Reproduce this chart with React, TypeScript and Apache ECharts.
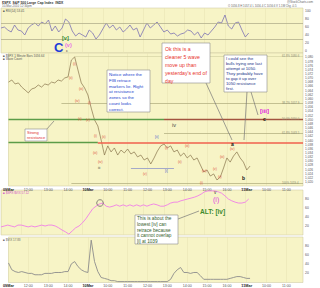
import { useEffect, useRef } from "react";
import * as echarts from "echarts";

const tickLabels = ["09Mar", "12:00", "13:00", "14:00", "10Mar", "10:00", "11:00", "12:00", "13:00", "14:00", "15:00", "16:00", "11Mar", "10:00", "11:00"];
const STEPS = 6;

const price = [
  1068.0, 1069.0, 1067.1, 1067.6, 1065.6, 1064.2, 1062.8, 1064.7, 1065.2, 1066.6,
  1065.6, 1067.1, 1066.6, 1068.0, 1067.6, 1069.0, 1068.5, 1070.0, 1070.5, 1078.6,
  1080.1, 1073.8, 1067.6, 1065.2, 1061.8, 1055.5, 1049.8, 1046.9, 1040.1, 1032.9,
  1037.3, 1034.4, 1036.3, 1032.9, 1035.3, 1033.9, 1035.8, 1033.4, 1034.4, 1032.0,
  1032.9, 1030.5, 1031.5, 1028.6, 1031.5, 1034.8, 1037.3, 1038.2, 1036.3, 1037.3,
  1034.4, 1035.3, 1032.4, 1033.9, 1031.5, 1032.9, 1030.5, 1031.5, 1028.1, 1024.7,
  1025.7, 1022.8, 1023.8, 1020.9, 1022.3, 1026.7, 1031.5, 1029.5, 1032.4, 1034.4,
  1031.5, 1029.5, 1025.7, 1027.6,
];

const rsi = [
  57.5, 60, 52.5, 47.5, 65, 52.5, 50, 40, 57.5, 65,
  70, 62.5, 72.5, 67.5, 77.5, 50, 62.5, 47.5, 57.5, 80,
  72.5, 50, 37.5, 45, 40, 35, 52.5, 45, 30, 40,
  55, 70, 57.5, 65, 52.5, 60, 47.5, 55, 65, 52.5,
  57.5, 35, 52.5, 70, 57.5, 65, 72.5, 60, 47.5, 52.5,
  42.5, 45, 37.5, 42.5, 45, 52.5, 50, 40, 47.5, 32.5,
  45, 40, 50, 60, 72.5, 70, 90, 62.5, 55, 70,
  72.5, 52.5, 35, 45,
];

const ratio = [
  18, 20, 22, 20, 18, 22, 22, 20, 18, 20,
  18, 20, 22, 20, 22, 22, 20, 16, 11, 7,
  2, 9, 16, 20, 27, 36, 47, 58, 64, 69,
  71, 64, 62, 64, 67, 64, 67, 64, 67, 64,
  67, 64, 67, 64, 67, 69, 67, 64, 64, 67,
  71, 73, 73, 76, 78, 80, 82, 84, 87, 91,
  96, 98, 98, 98, 96, 93, 87, 80, 76, 73,
  71, 71, 73, 80,
];

const volume = [
  43, 28, 24, 22, 24, 22, 20, 20, 17, 17,
  17, 20, 20, 20, 22, 22, 22, 24, 24, 41,
  46, 35, 28, 24, 22, 93, 46, 24, 11, 9,
  7, 4, 4, 2, 2, 2, 2, 2, 2, 2,
  2, 2, 2, 2, 2, 2, 2, 2, 2, 7,
  20, 28, 33, 22, 22, 20, 22, 22, 15, 7,
  7, 7, 7, 7, 7, 7, 7, 9, 11, 13,
  13, 11, 9, 9,
];

const resistanceLevels = [1050, 1039];
const fibLevels = [1080.6, 1057.9, 1043.5, 1019.4];
const fibNames = ["61.8% 1080.6", "38.2% 1057.9", "61.8% 1043.5", "100% 1019.4"];
const supportLevel = 1026.7;

const categories = Array.from({ length: tickLabels.length * STEPS }, (_, i) =>
  i % STEPS === 0 ? tickLabels[i / STEPS] : `${i}`
);
const LAST = categories.length - 1;

const FONT = 'Arial, "Liberation Sans", Helvetica, sans-serif';
const BG = "#f7f4c6";

const txt = (x: number, y: number, text: string, fill: string, size: number, weight = "normal", lh?: number) => ({
  type: "text",
  x,
  y,
  z: 20,
  silent: true,
  style: { text, fill, fontSize: size, fontWeight: weight, fontFamily: FONT, lineHeight: lh ?? size * 1.2, verticalAlign: "top", align: "left" },
});
const box = (x: number, y: number, w: number, h: number) => ({
  type: "rect",
  z: 15,
  silent: true,
  shape: { x, y, width: w, height: h },
  style: { fill: "#ffffff", stroke: "#8a8a8a", lineWidth: 0.6 },
});
const seg = (x1: number, y1: number, x2: number, y2: number, color = "#777") => ({
  type: "line",
  z: 14,
  silent: true,
  shape: { x1, y1, x2, y2 },
  style: { stroke: color, lineWidth: 0.7 },
});

const waveMarks: [number, number, string, string][] = [
  [73, 62, "(i)", "#e0503c"], [69, 76, "(ii)", "#e0503c"], [79, 87, "(iii)", "#e0503c"],
  [75, 99, "(iv)", "#e0503c"], [88, 101, "(i)", "#e0503c"], [78, 117, "(ii)", "#e0503c"],
  [86, 118, "(v)", "#e0503c"], [94, 134, "(i)", "#e0503c"], [102, 135, "(ii)", "#e0503c"],
  [93, 151, "(iii)", "#e0503c"], [98, 160, "(iv)", "#e0503c"], [143, 172, "(v)", "#e0503c"],
  [165, 146, "(i)", "#e0503c"], [178, 160, "(ii)", "#e0503c"], [185, 144, "(iii)", "#e0503c"],
  [202, 169, "(iv)", "#e0503c"], [213, 167, "(v)", "#e0503c"], [200, 181, "(i)", "#e0503c"],
  [218, 175, "(ii)", "#e0503c"], [220, 155, "(iii)", "#e0503c"], [230, 147, "(iv)", "#e0503c"],
  [155, 135, "[ii]", "#4a5ad0"], [165, 169, "[i]", "#4a5ad0"], [98, 166, "iii", "#333"],
];

export default function App() {
  const ref = useRef<HTMLDivElement>(null);
  useEffect(() => {
    if (!ref.current) return;
    const chart = echarts.init(ref.current, undefined, { renderer: "svg" });

    const grids = [
      { top: 8, height: 45 },
      { top: 53, height: 133 },
      { top: 190, height: 45 },
      { top: 237, height: 46 },
    ].map((g) => ({ left: 1, right: 17, ...g, show: true, backgroundColor: BG, borderColor: "#c9c59e", borderWidth: 0.5 }));

    const xAxis = [0, 1, 2, 3].map((gi) => ({
      type: "category",
      gridIndex: gi,
      data: categories,
      boundaryGap: false,
      axisLine: { show: false },
      axisTick: { show: false },
      axisLabel: {
        show: gi === 1 || gi === 3,
        interval: (i: number) => i % STEPS === 0,
        fontSize: 3.6,
        color: "#555",
        margin: 1.5,
        fontFamily: FONT,
        formatter: (v: string) => (v.endsWith("Mar") ? `{b|${v}}` : v),
        rich: { b: { fontWeight: "bold", fontSize: 3.8, color: "#222", fontFamily: FONT } },
      },
      splitLine: { show: true, interval: (i: number) => i % STEPS === 0, lineStyle: { color: "#e6e2b2", width: 0.5 } },
    }));

    const tinyLabel = { fontSize: 3.4, color: "#555", margin: 2, fontFamily: FONT, showMinLabel: false, showMaxLabel: false };
    const yAxis = [
      { gridIndex: 0, type: "value", position: "right", min: -5, max: 107.5, axisLabel: tinyLabel, splitLine: { show: false }, axisLine: { show: false }, axisTick: { show: false } },
      { gridIndex: 1, type: "value", position: "right", min: 1018, max: 1082, interval: 2, axisLabel: { ...tinyLabel, fontSize: 3.2 }, splitLine: { show: false }, axisLine: { show: false }, axisTick: { show: false } },
      { gridIndex: 2, type: "value", position: "right", min: 0, max: 100, axisLabel: tinyLabel, splitLine: { show: false }, axisLine: { show: false }, axisTick: { show: false } },
      { gridIndex: 3, type: "value", position: "right", min: 0, max: 100, axisLabel: tinyLabel, splitLine: { show: false }, axisLine: { show: false }, axisTick: { show: false } },
    ];

    const hSeg = (from: number, to: number, y: number, color: string, width: number) => [
      { coord: [from, y], lineStyle: { color, width, type: "solid" } },
      { coord: [to, y] },
    ];

    const priceMarks = [
      hSeg(0, 47, resistanceLevels[0], "#5c9c48", 1.3),
      hSeg(47, LAST, resistanceLevels[0], "#a35440", 1.3),
      hSeg(0, 27, resistanceLevels[1], "#5c9c48", 1.3),
      hSeg(27, LAST, resistanceLevels[1], "#f0604c", 1.6),
      hSeg(20, LAST, fibLevels[0], "#cfcc9e", 0.6),
      hSeg(16, LAST, fibLevels[1], "#b5b284", 0.8),
      hSeg(47, LAST, fibLevels[2], "#b5b284", 0.8),
      hSeg(19, LAST, fibLevels[3], "#b5b284", 0.8),
      hSeg(37, 50, supportLevel, "#a4aac8", 1.2),
    ];

    const graphic = [
      txt(2, 0.5, "$SPX  S&P 500 Large Cap Index  INDX", "#333", 3.4, "bold"),
      txt(2, 4.3, "10-Mar-2010 12:34pm", "#666", 3),
      txt(287, 0.3, "@StockCharts.com", "#666", 3),
      txt(228, 4.2, "O 1056.8 H 1057.4 L 1056.4 C 1056.6 V 1.1M Chg -0.5", "#666", 2.8),
      txt(3, 9, "\u25A0 RSI(14) 53.41", "#555", 3),
      txt(3, 53.6, "\u25A0 $SPX 1 Minute Bars 1056.64", "#555", 3),
      txt(3, 56.6, "\u25A0 Wave Count", "#555", 3),
      txt(3, 191, "\u25A0 $SPX:$VIX 57.12", "#d050c8", 3),
      txt(3, 238, "\u25A0 $VIX 17.83", "#666", 3),
      ...fibNames.map((n, k) => txt(282, [53.5, 100.5, 130.5, 180.5][k], n, "#8a8a70", 2.8)),
      txt(282, 116.5, "50.0% 1050.0", "#8a8a70", 2.8),
      ...waveMarks.map(([x, y, t, c]) => txt(x, y, t, c, 3.3)),
      txt(54, 39.5, "C", "#1f3fd8", 13, "bold"),
      txt(62, 34.5, "[v]", "#2e8b2e", 5.5, "bold"),
      txt(65, 42, "(v)", "#e86ce8", 5.5, "bold"),
      txt(66, 48, "c", "#333", 4),
      txt(260, 107, "[iii]", "#e020e0", 6, "bold"),
      txt(263, 115.5, "c", "#111", 5, "bold"),
      txt(172, 121.5, "iv", "#444", 5.5),
      txt(231, 141, "a", "#111", 5, "bold"),
      txt(242, 175, "b", "#111", 5, "bold"),
      txt(213, 195, "(i)", "#e040e0", 7),
      txt(214, 189.5, "v", "#333", 4.5),
      txt(200, 207.5, "ALT: [iv]", "#3b8a2b", 6.5, "bold"),
      seg(206, 83, 232, 140),
      seg(247, 92, 244, 140),
      seg(251, 92, 258, 115),
      seg(46, 130, 54, 121),
      seg(178, 219, 199, 211),
      { type: "circle", z: 14, silent: true, shape: { cx: 100, cy: 203, r: 3.3 }, style: { fill: "none", stroke: "#555", lineWidth: 0.7 } },
      box(162, 43, 48, 40),
      txt(165, 44.5, "Ok this is a\ncleaner 5 wave\nmove up than\nyesterday's end of\nday", "#e8342c", 5.2, "normal", 8),
      box(107, 70, 43, 42),
      txt(109, 71.5, "Notice where the\nFIB retrace\nmarkers lie. Right\nat resistance\nzones so the\ncount looks\ncorrect.", "#2244cc", 4.4, "normal", 5.8),
      box(224, 55, 43, 37),
      txt(226, 55.8, "I could see the\nbulls trying one last\nattempt at 1050.\nThey probably have\nto gap it up over\n1050 resistance\nfirst.", "#223388", 4.2, "normal", 5.1),
      box(25, 129, 22, 12),
      txt(27, 129.8, "Strong\nresistance", "#e03030", 4, "normal", 5),
      box(135, 215, 43, 29),
      txt(137, 216, "This is about the\nlowest [iv] can\nretrace because\nit cannot overlap\n[i] at 1039", "#355e2a", 4.7, "normal", 5.6),
    ];

    chart.setOption({
      animation: false,
      backgroundColor: "#ffffff",
      grid: grids,
      xAxis,
      yAxis,
      graphic,
      series: [
        {
          type: "line", xAxisIndex: 0, yAxisIndex: 0, data: rsi, symbol: "none",
          lineStyle: { color: "#7c72b4", width: 0.8 },
          markLine: {
            silent: true, symbol: ["none", "none"], label: { show: false },
            lineStyle: { color: "#b3b08e", width: 0.8, type: "solid" },
            data: [{ yAxis: 30 }, { yAxis: 70 }],
          },
        },
        {
          type: "line", xAxisIndex: 1, yAxisIndex: 1, data: price, symbol: "none",
          lineStyle: { color: "#86724a", width: 0.7 },
          markLine: { silent: true, symbol: ["none", "none"], label: { show: false }, lineStyle: { type: "solid" }, data: priceMarks },
        },
        { type: "line", xAxisIndex: 2, yAxisIndex: 2, data: ratio, symbol: "none", lineStyle: { color: "#f07ee8", width: 0.9 } },
        { type: "line", xAxisIndex: 3, yAxisIndex: 3, data: volume, symbol: "none", lineStyle: { color: "#8c8c8c", width: 0.9 } },
      ],
    });
    return () => chart.dispose();
  }, []);
  return <div ref={ref} style={{ position: "fixed", left: 0, top: 0, width: 320, height: 288 }} />;
}
